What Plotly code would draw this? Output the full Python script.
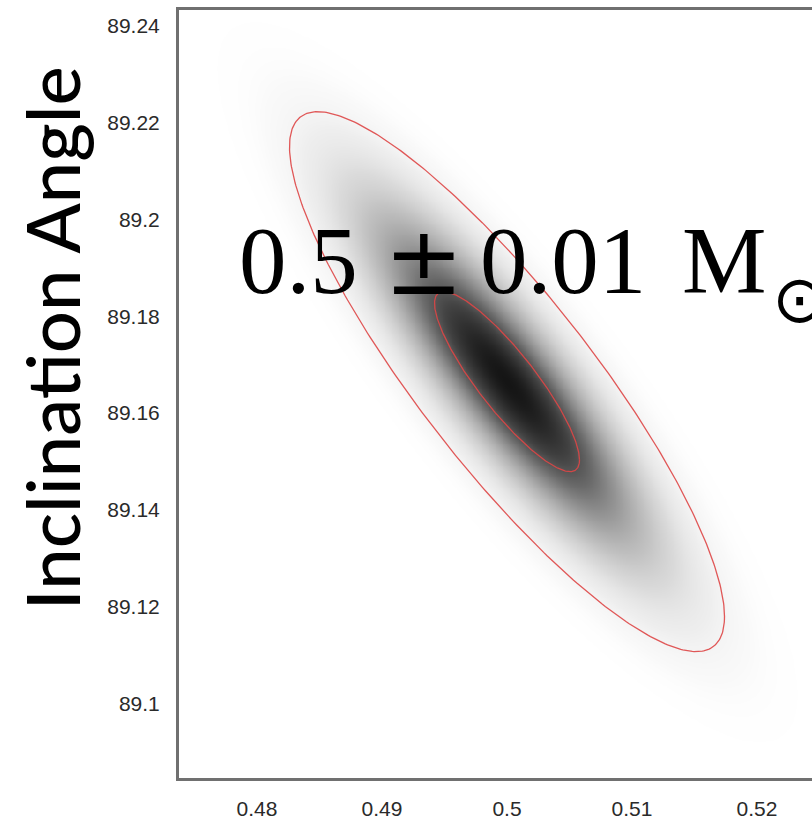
import numpy as np
import plotly.graph_objects as go

# ---- values ----
x_ticks = [0.48, 0.49, 0.50, 0.51, 0.52]
x_tick_text = ["0.48", "0.49", "0.5", "0.51", "0.52"]
y_ticks = [89.10, 89.12, 89.14, 89.16, 89.18, 89.20, 89.22, 89.24]
y_tick_text = ["89.1", "89.12", "89.14", "89.16", "89.18", "89.2", "89.22", "89.24"]
x_range = [0.47376, 0.52440]
y_range = [89.0847, 89.2432]

# posterior (mass vs inclination) read from the cloud and its ellipses
mass_mean = 0.5
incl_mean = 89.1665
mass_sigma = 0.0058
incl_sigma = 0.01857
correlation = -0.87
ellipse_levels = [1, 3]   # sigma levels of the red ellipses

# ---- density grid ----
xs = np.linspace(x_range[0], x_range[1], 360)
ys = np.linspace(y_range[0], y_range[1], 420)
X, Y = np.meshgrid(xs, ys)
zx = (X - mass_mean) / mass_sigma
zy = (Y - incl_mean) / incl_sigma
q = (zx ** 2 + zy ** 2 - 2 * correlation * zx * zy) / (1 - correlation ** 2)
Z = np.exp(-q / 2)

gray_scale = [
    [0.0, "#ffffff"], [0.004, "#f9f9f9"], [0.02, "#eeeeee"], [0.07, "#dadada"],
    [0.15, "#c2c2c2"], [0.3, "#9c9c9c"], [0.5, "#6c6c6c"], [0.7, "#424242"],
    [0.88, "#272727"], [1.0, "#151515"],
]

fig = go.Figure()
fig.add_trace(go.Heatmap(x=xs, y=ys, z=Z, zmin=0, zmax=1, colorscale=gray_scale,
                         showscale=False, zsmooth="best", hoverinfo="skip"))

cov = np.array([[mass_sigma ** 2, correlation * mass_sigma * incl_sigma],
                [correlation * mass_sigma * incl_sigma, incl_sigma ** 2]])
L = np.linalg.cholesky(cov)
t = np.linspace(0, 2 * np.pi, 400)
circle = np.vstack([np.cos(t), np.sin(t)])
for k in ellipse_levels:
    pts = k * (L @ circle)
    fig.add_trace(go.Scatter(x=mass_mean + pts[0], y=incl_mean + pts[1], mode="lines",
                             line=dict(color="rgba(222,70,70,0.9)", width=1.3),
                             hoverinfo="skip", showlegend=False))

H = 820
top, bottom = 10, 33
plot_h = H - top - bottom


def py(pix):
    return (H - bottom - pix) / plot_h


def px(pix):
    return (pix - 179) / (812 - 179)


serif = "Liberation Serif"
ann = []
ann.append(dict(text="Inclination Angle", x=px(51), y=py(342), xref="paper", yref="paper",
                textangle=-90, showarrow=False, xanchor="center", yanchor="middle",
                font=dict(family="Lato", size=74, color="#000", weight=500)))
pieces = [("0.5", 237, serif), ("±", 382, "DejaVu Serif"), ("0.01", 478, serif), ("M", 680, serif)]
for txt, xp, fam in pieces:
    ann.append(dict(text=txt, x=px(xp), y=py(264), xref="paper", yref="paper", showarrow=False,
                    xanchor="left", yanchor="middle", font=dict(family=fam, size=95, color="#000")))
ann.append(dict(text="⊙", x=px(770), y=py(303), xref="paper", yref="paper", showarrow=False,
                xanchor="left", yanchor="middle", font=dict(family="DejaVu Sans", size=66, color="#000")))

axis_common = dict(showgrid=False, zeroline=False, showline=True, linecolor="#707070",
                   linewidth=3, ticks="", tickfont=dict(family="Liberation Sans", size=21, color="#2a2a2a"))
fig.update_layout(
    width=812, height=H,
    margin=dict(l=179, r=0, t=top, b=bottom, pad=0),
    plot_bgcolor="white", paper_bgcolor="white",
    showlegend=False,
    xaxis=dict(range=x_range, tickvals=x_ticks, ticktext=x_tick_text, mirror=True,
               ticklabelstandoff=10, **axis_common),
    yaxis=dict(range=y_range, tickvals=y_ticks, ticktext=y_tick_text,
               ticklabelstandoff=12, **axis_common),
    annotations=ann,
)
fig.write_html("out.html")
